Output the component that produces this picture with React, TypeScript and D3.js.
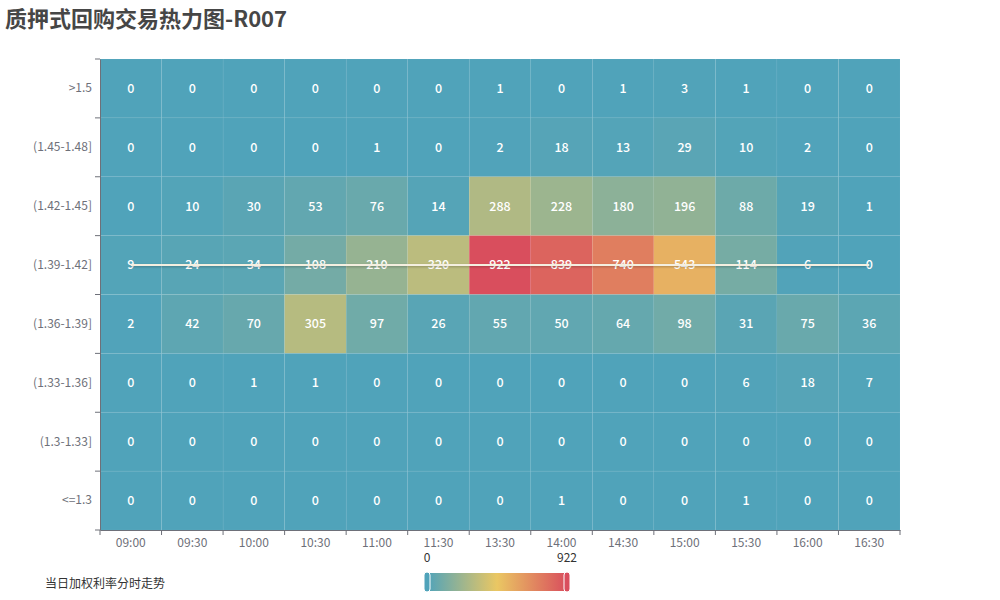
import { useEffect, useRef } from "react"
import * as d3 from "d3"

// Half-hour slots (x) and rate buckets (y, top to bottom)
const times = ["09:00", "09:30", "10:00", "10:30", "11:00", "11:30", "13:30", "14:00", "14:30", "15:00", "15:30", "16:00", "16:30"]
const buckets = [">1.5", "(1.45-1.48]", "(1.42-1.45]", "(1.39-1.42]", "(1.36-1.39]", "(1.33-1.36]", "(1.3-1.33]", "<=1.3"]

// Trade counts, one row per bucket
const rowGt150 = [0, 0, 0, 0, 0, 0, 1, 0, 1, 3, 1, 0, 0]
const row145 = [0, 0, 0, 0, 1, 0, 2, 18, 13, 29, 10, 2, 0]
const row142 = [0, 10, 30, 53, 76, 14, 288, 228, 180, 196, 88, 19, 1]
const row139 = [9, 24, 34, 108, 210, 320, 922, 839, 740, 543, 114, 6, 0]
const row136 = [2, 42, 70, 305, 97, 26, 55, 50, 64, 98, 31, 75, 36]
const row133 = [0, 0, 1, 1, 0, 0, 0, 0, 0, 0, 6, 18, 7]
const row130 = [0, 0, 0, 0, 0, 0, 0, 0, 0, 0, 0, 0, 0]
const rowLe130 = [0, 0, 0, 0, 0, 0, 0, 1, 0, 0, 1, 0, 0]
const rows = [rowGt150, row145, row142, row139, row136, row133, row130, rowLe130]

// Weighted rate trend: bucket hit at each slot
const rateTrend = [
  "(1.39-1.42]", "(1.39-1.42]", "(1.39-1.42]", "(1.39-1.42]", "(1.39-1.42]", "(1.39-1.42]", "(1.39-1.42]",
  "(1.39-1.42]", "(1.39-1.42]", "(1.39-1.42]", "(1.39-1.42]", "(1.39-1.42]", "(1.39-1.42]",
]

const paletteColors = ["#50a3ba", "#eac763", "#d94e5d"]
const FONT = "'Noto Sans CJK SC', 'Noto Sans', sans-serif"

export default function App() {
  const svgRef = useRef<SVGSVGElement>(null)

  useEffect(() => {
    if (!svgRef.current) return
    document.body.style.margin = "0"

    const svg = d3.select(svgRef.current)
    svg.selectAll("*").remove()

    const W = 1000
    const H = 600
    const margin = { top: 59, right: 100, bottom: 70, left: 100 }

    const x = d3.scaleBand<string>().domain(times).range([margin.left, W - margin.right])
    const y = d3.scaleBand<string>().domain(buckets).range([margin.top, H - margin.bottom])

    const maxVal = d3.max(rows.flat()) ?? 1
    const color = d3
      .scaleLinear<string>()
      .domain([0, maxVal / 2, maxVal])
      .range(paletteColors)
      .interpolate(d3.interpolateRgb)

    svg.attr("width", W).attr("height", H).style("font-family", FONT)

    // Title
    svg
      .append("text")
      .attr("x", 5)
      .attr("y", 27)
      .attr("fill", "#464646")
      .style("font-size", "22px")
      .style("font-weight", "bold")
      .text("质押式回购交易热力图-R007")

    const cells = rows.flatMap((r, i) => r.map((v, j) => ({ bucket: buckets[i], time: times[j], value: v })))

    // Heatmap cells
    svg
      .append("g")
      .selectAll("rect")
      .data(cells)
      .enter()
      .append("rect")
      .attr("x", (d) => x(d.time)!)
      .attr("y", (d) => y(d.bucket)!)
      .attr("width", x.bandwidth())
      .attr("height", y.bandwidth())
      .attr("fill", (d) => color(d.value))
      .attr("stroke", "rgba(255,255,255,0.03)")
      .attr("stroke-width", 1)

    // Cell labels
    svg
      .append("g")
      .selectAll("text")
      .data(cells)
      .enter()
      .append("text")
      .attr("x", (d) => x(d.time)! + x.bandwidth() / 2)
      .attr("y", (d) => y(d.bucket)! + y.bandwidth() / 2)
      .attr("dy", "0.35em")
      .attr("text-anchor", "middle")
      .attr("fill", "#fff")
      .style("font-size", "12.5px")
      .style("font-weight", 500)
      .text((d) => d.value)

    // Rate trend line
    const defs = svg.append("defs")
    const shadow = defs
      .append("filter")
      .attr("id", "lineShadow")
      .attr("filterUnits", "userSpaceOnUse")
      .attr("x", 0)
      .attr("y", 0)
      .attr("width", W)
      .attr("height", H)
    shadow
      .append("feDropShadow")
      .attr("dx", 0)
      .attr("dy", 1)
      .attr("stdDeviation", 1)
      .attr("flood-color", "#000")
      .attr("flood-opacity", 0.25)

    const line = d3
      .line<string>()
      .x((_, i) => x(times[i])! + x.bandwidth() / 2)
      .y((d) => y(d)! + y.bandwidth() / 2)

    svg
      .append("path")
      .datum(rateTrend)
      .attr("d", line)
      .attr("fill", "none")
      .attr("stroke", "#f4efe0")
      .attr("stroke-width", 2)
      .attr("filter", "url(#lineShadow)")

    // Axes
    const axisColor = "#6e7079"
    const xAxis = svg
      .append("g")
      .attr("transform", `translate(0,${H - margin.bottom})`)
      .call(d3.axisBottom(x).tickSize(0).tickPadding(8))
    xAxis.select(".domain").attr("stroke", axisColor)
    xAxis.selectAll("text").attr("fill", axisColor).style("font-size", "12px").style("font-family", FONT)
    const xEdges = [...times.map((t) => x(t)!), x.range()[1]]
    xAxis
      .selectAll(".edge")
      .data(xEdges)
      .enter()
      .append("line")
      .attr("x1", (d) => d)
      .attr("x2", (d) => d)
      .attr("y1", 0)
      .attr("y2", 5)
      .attr("stroke", axisColor)

    const yAxis = svg
      .append("g")
      .attr("transform", `translate(${margin.left},0)`)
      .call(d3.axisLeft(y).tickSize(0).tickPadding(8))
    yAxis.select(".domain").attr("stroke", axisColor)
    yAxis.selectAll("text").attr("fill", axisColor).style("font-size", "12px").style("font-family", FONT)
    const yEdges = [...buckets.map((b) => y(b)!), y.range()[1]]
    yAxis
      .selectAll(".edge")
      .data(yEdges)
      .enter()
      .append("line")
      .attr("x1", -5)
      .attr("x2", 0)
      .attr("y1", (d) => d)
      .attr("y2", (d) => d)
      .attr("stroke", axisColor)

    // Legend
    svg
      .append("text")
      .attr("x", 45)
      .attr("y", 588)
      .attr("fill", "#333")
      .style("font-size", "12px")
      .text("当日加权利率分时走势")

    // Continuous visual map
    const vmX0 = 427
    const vmX1 = 567
    const vmY = 573
    const vmH = 18
    const grad = defs.append("linearGradient").attr("id", "vmGrad").attr("x1", "0%").attr("x2", "100%").attr("y1", "0%").attr("y2", "0%")
    paletteColors.forEach((c, i) => {
      grad.append("stop").attr("offset", `${(i / (paletteColors.length - 1)) * 100}%`).attr("stop-color", c)
    })
    svg.append("rect").attr("x", vmX0).attr("y", vmY).attr("width", vmX1 - vmX0).attr("height", vmH).attr("fill", "url(#vmGrad)")

    const handles = [
      { x: vmX0, c: color(0) },
      { x: vmX1, c: color(maxVal) },
    ]
    svg
      .append("g")
      .selectAll("rect")
      .data(handles)
      .enter()
      .append("rect")
      .attr("x", (d) => d.x - 3)
      .attr("y", vmY - 1)
      .attr("width", 6)
      .attr("height", vmH + 2)
      .attr("rx", 3)
      .attr("fill", (d) => d.c)
      .attr("stroke", "#fff")
      .attr("stroke-width", 1)

    svg
      .append("g")
      .selectAll("text")
      .data([
        { x: vmX0, t: "0" },
        { x: vmX1, t: String(maxVal) },
      ])
      .enter()
      .append("text")
      .attr("x", (d) => d.x)
      .attr("y", 562)
      .attr("text-anchor", "middle")
      .attr("fill", "#333")
      .style("font-size", "12px")
      .text((d) => d.t)
  }, [])

  return (
    <div style={{ width: 1000, height: 600 }}>
      <svg ref={svgRef} width={1000} height={600}></svg>
    </div>
  )
}
